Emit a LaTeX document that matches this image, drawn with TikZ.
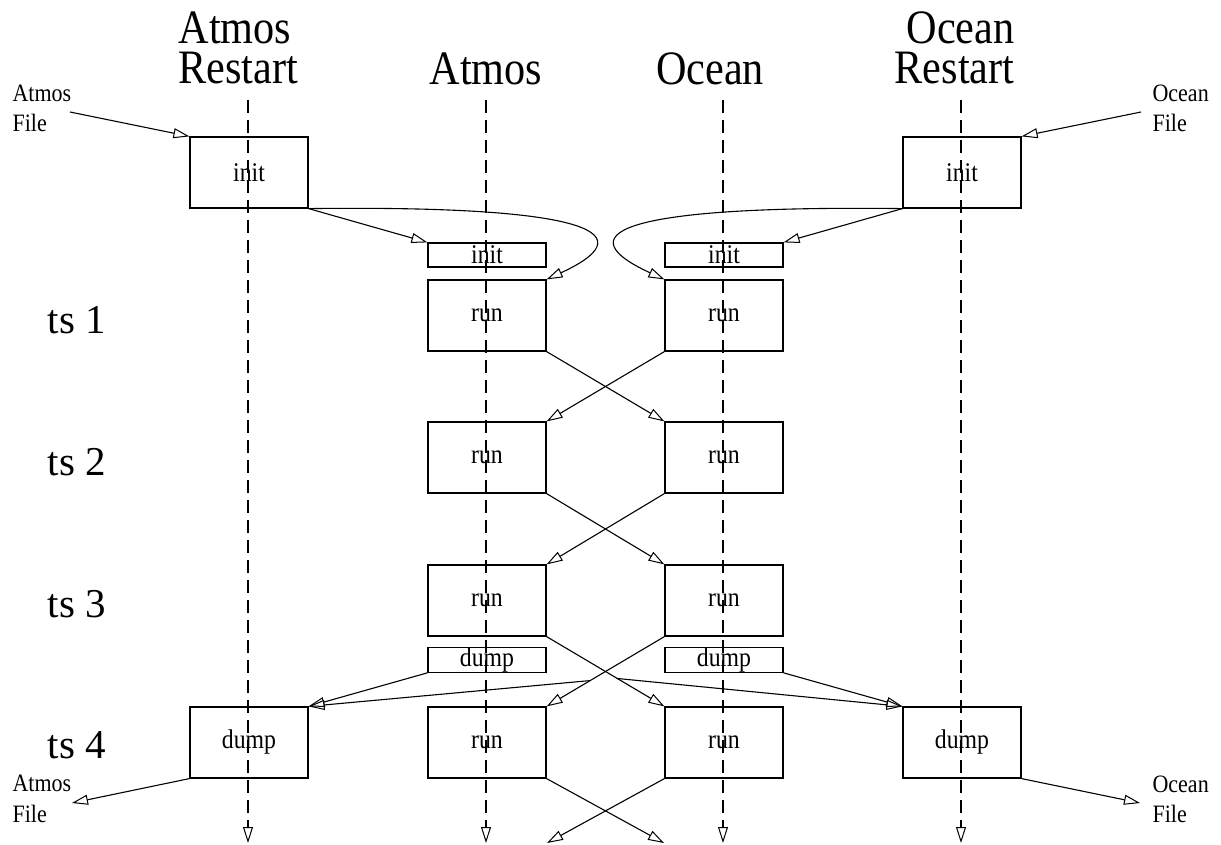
\documentclass[tikz,border=0pt]{standalone}
\usepackage{fontspec}
\setmainfont{Liberation Serif}[FakeStretch=0.88]
\newfontfamily\tsfont{Liberation Serif}
\usetikzlibrary{arrows.meta}
\begin{document}
\begin{tikzpicture}[x=1pt,y=-1pt,
  line width=1.1pt,
  arr/.style={-{Triangle[open,length=16pt,width=10pt,line width=1pt]}},
  bigbox/.style={draw,line width=1.2pt,minimum width=118pt,minimum height=71pt,inner sep=0pt,font=\fontsize{27}{29}\selectfont},
  slimbox/.style={draw,line width=1.2pt,minimum width=118pt,minimum height=24pt,inner sep=0pt,font=\fontsize{27}{29}\selectfont},
  biglab/.style={inner sep=0pt,font=\fontsize{48}{40}\selectfont},
  tslab/.style={anchor=base,inner sep=0pt,font=\tsfont\fontsize{41}{44}\selectfont},
  filelab/.style={anchor=base west,inner sep=0pt,font=\fontsize{25}{28}\selectfont},
  lifeline/.style={dash pattern=on 13pt off 7pt}
]
\useasboundingbox (0,0) rectangle (1221,845);

% column headings
\node[biglab,align=left,anchor=south west] (h1) at (178,85) {Atmos\\Restart};
\node[biglab,anchor=base] (h2) at (486,85) {Atmos};
\node[biglab,anchor=base] (h3) at (710,85) {Ocean};
\node[biglab,align=right,anchor=south east] (h4) at (1015,85) {Ocean\\Restart};

% time step labels
\node[tslab] (ts1) at (77,333) {ts 1};
\node[tslab] (ts2) at (77,475) {ts 2};
\node[tslab] (ts3) at (77,617) {ts 3};
\node[tslab] (ts4) at (77,758) {ts 4};

% file labels
\node[filelab] (fa1) at (12,102) {Atmos};
\node[filelab] (fa2) at (12,132) {File};
\node[filelab] (fo1) at (1152,102) {Ocean};
\node[filelab] (fo2) at (1152,132) {File};
\node[filelab] (fa3) at (12,791) {Atmos};
\node[filelab] (fa4) at (12,822) {File};
\node[filelab] (fo3) at (1152,792) {Ocean};
\node[filelab] (fo4) at (1152,822) {File};

% boxes
\node[bigbox] (ar0) at (249,172.5) {init};
\node[bigbox] (or0) at (962,172.5) {init};
\node[slimbox] (ai) at (487,255) {init};
\node[slimbox] (oi) at (724,255) {init};
\node[bigbox] (a1) at (487,315.5) {run};
\node[bigbox] (o1) at (724,315.5) {run};
\node[bigbox] (a2) at (487,457.5) {run};
\node[bigbox] (o2) at (724,457.5) {run};
\node[bigbox] (a3) at (487,600.5) {run};
\node[bigbox] (o3) at (724,600.5) {run};
\node[slimbox] (ad) at (487,660) {dump};
\node[slimbox] (od) at (724,660) {dump};
\node[bigbox] (ar4) at (249,742.5) {dump};
\node[bigbox] (a4) at (487,742.5) {run};
\node[bigbox] (o4) at (724,742.5) {run};
\node[bigbox] (or4) at (962,742.5) {dump};

% lifelines
\foreach \n/\x in {l1/248,l2/486,l3/723,l4/961}{
  \coordinate (\n t) at (\x,100);
  \coordinate (\n b) at (\x,843);
  \draw[lifeline,arr] (\n t) -- (\n b);
}

% file inputs
\coordinate (afin) at (70,112);
\coordinate (ofin) at (1141,112);
\draw[arr] (afin) -- (ar0.north west);
\draw[arr] (ofin) -- (or0.north east);

% init distribution
\draw[arr] (ar0.south east) -- (ai.north west);
\draw[arr] (ar0.south east) .. controls (600,205) and (643,235) .. (a1.north east);
\draw[arr] (or0.south west) -- (oi.north east);
\draw[arr] (or0.south west) .. controls (611,205) and (568,235) .. (o1.north west);

% coupling exchanges
\draw[arr] (a1.south east) -- (o2.north west);
\draw[arr] (o1.south west) -- (a2.north east);
\draw[arr] (a2.south east) -- (o3.north west);
\draw[arr] (o2.south west) -- (a3.north east);
\draw[arr] (a3.south east) -- coordinate[pos=0.6] (tapR) (o4.north west);
\draw[arr] (o3.south west) -- coordinate[pos=0.63] (tapL) (a4.north east);
\coordinate (aend) at (664,843);
\coordinate (oend) at (547,843);
\draw[arr] (a4.south east) -- (aend);
\draw[arr] (o4.south west) -- (oend);

% dumps
\draw[arr] (ad.south west) -- (ar4.north east);
\draw[arr] (tapL) -- (ar4.north east);
\draw[arr] (od.south east) -- (or4.north west);
\draw[arr] (tapR) -- (or4.north west);

% file outputs
\coordinate (afout) at (72,803);
\coordinate (ofout) at (1140,803);
\draw[arr] (ar4.south west) -- (afout);
\draw[arr] (or4.south east) -- (ofout);
\end{tikzpicture}
\end{document}
